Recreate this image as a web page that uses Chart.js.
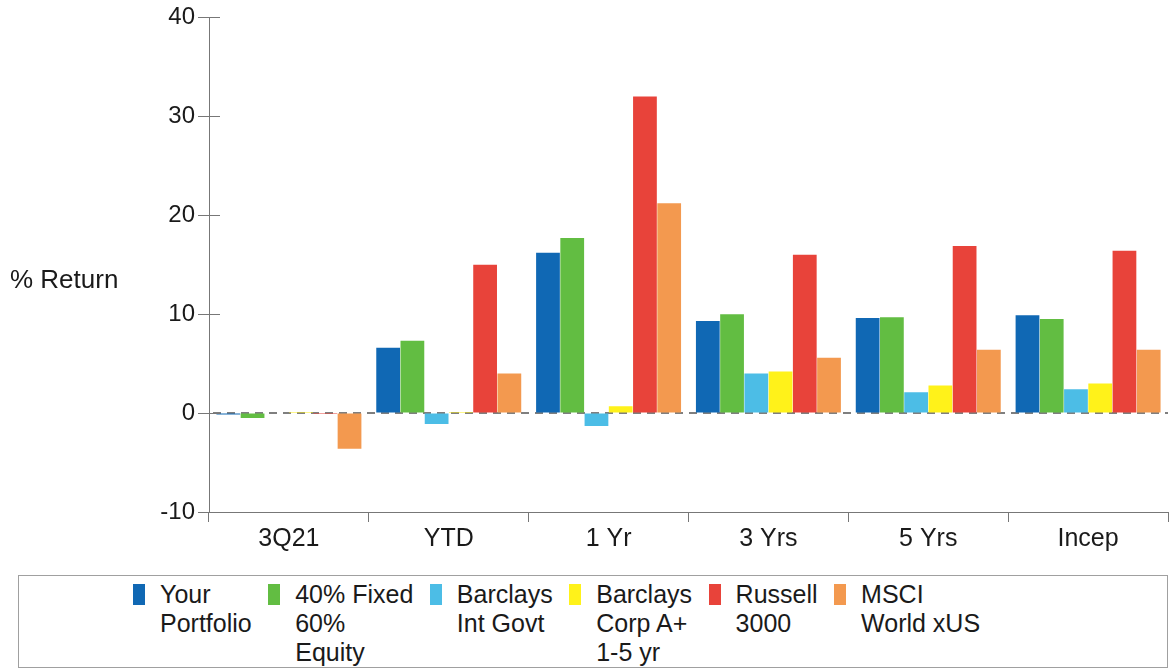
<!DOCTYPE html>
<html lang="en">
<head>
<meta charset="UTF-8">
<title>% Return</title>
<script src="https://cdn.jsdelivr.net/npm/chart.js"></script>
<style>
    html, body {
        margin: 0;
        padding: 0;
        background: #fff;
        font-family: 'Liberation Sans', Arial, sans-serif;
    }
    .wrap {
        position: relative;
        width: 1172px;
        height: 671px;
    }
    .chart-box {
        position: absolute;
        left: 0;
        top: 0;
        width: 1172px;
        height: 560px;
    }
    #legend {
        position: absolute;
        left: 18px;
        top: 575px;
        width: 1150px;
        height: 93px;
        border: 1px solid #a0a0a0;
        box-sizing: border-box;
        display: flex;
        padding-left: 114px;
        padding-top: 4px;
        gap: 16.5px;
    }
    .item {
        display: flex;
        align-items: flex-start;
    }
    .swatch {
        width: 12px;
        height: 21px;
        margin-top: 4px;
        margin-right: 15px;
    }
    .item span {
        font-size: 25px;
        line-height: 29px;
        color: #1a1a1a;
    }
</style>
</head>
<body>
<div class="wrap">
    <div class="chart-box"><canvas id="chart"></canvas></div>
    <div id="legend"></div>
</div>
<script>
    // periods along the x axis
    const periods = ['3Q21', 'YTD', '1 Yr', '3 Yrs', '5 Yrs', 'Incep'];

    // series names (one line per entry)
    const seriesNames = [
        ['Your', 'Portfolio'],
        ['40% Fixed', '60%', 'Equity'],
        ['Barclays', 'Int Govt'],
        ['Barclays', 'Corp A+', '1-5 yr'],
        ['Russell', '3000'],
        ['MSCI', 'World xUS']
    ];
    const seriesColors = ['#1068b4', '#62bd42', '#4cbde6', '#fff21a', '#e8433a', '#f3994f'];

    // % returns
    const yourPortfolio = [-0.15, 6.6, 16.2, 9.3, 9.6, 9.9];
    const fixed40Equity60 = [-0.5, 7.3, 17.7, 10.0, 9.7, 9.5];
    const barclaysIntGovt = [0.05, -1.1, -1.3, 4.0, 2.1, 2.4];
    const barclaysCorp = [0.1, 0.1, 0.7, 4.2, 2.8, 3.0];
    const russell3000 = [-0.1, 15.0, 32.0, 16.0, 16.9, 16.4];
    const msciWorldXUS = [-3.6, 4.0, 21.2, 5.6, 6.4, 6.4];

    const yTicks = [-10, 0, 10, 20, 30, 40];

    const allSeries = [yourPortfolio, fixed40Equity60, barclaysIntGovt, barclaysCorp, russell3000, msciWorldXUS];
    const fontFamily = '"Liberation Sans", Arial, sans-serif';

    const datasets = allSeries.map((vals, i) => ({
        label: seriesNames[i].join(' '),
        data: vals,
        backgroundColor: seriesColors[i],
        borderWidth: 0,
        categoryPercentage: 0.91,
        barPercentage: 0.98
    }));

    // dashed zero line + right half of the y tick marks + horizontal axis title
    const extras = {
        id: 'extras',
        beforeDatasetsDraw(chart) {
            const { ctx, chartArea, scales } = chart;
            const y0 = scales.y.getPixelForValue(0);
            ctx.save();
            ctx.strokeStyle = '#555';
            ctx.lineWidth = 1.5;
            ctx.setLineDash([8, 6]);
            ctx.beginPath();
            ctx.moveTo(chartArea.left + 4, y0);
            ctx.lineTo(chartArea.right, y0);
            ctx.stroke();
            ctx.restore();
        },
        afterDraw(chart) {
            const { ctx, chartArea, scales } = chart;
            ctx.save();
            ctx.strokeStyle = '#777';
            ctx.lineWidth = 1;
            yTicks.forEach(v => {
                const y = Math.round(scales.y.getPixelForValue(v)) + 0.5;
                ctx.beginPath();
                ctx.moveTo(chartArea.left, y);
                ctx.lineTo(chartArea.left + 11, y);
                ctx.stroke();
            });
            ctx.fillStyle = '#1a1a1a';
            ctx.font = '26px ' + fontFamily;
            ctx.textBaseline = 'alphabetic';
            ctx.textAlign = 'left';
            ctx.fillText('% Return', 10, 288);
            ctx.restore();
        }
    };

    new Chart(document.getElementById('chart'), {
        type: 'bar',
        data: { labels: periods, datasets: datasets },
        options: {
            responsive: true,
            maintainAspectRatio: false,
            animation: false,
            layout: { padding: { top: 17, right: 4, left: 0, bottom: 0 } },
            plugins: {
                legend: { display: false },
                tooltip: { enabled: false }
            },
            scales: {
                x: {
                    grid: {
                        offset: true,
                        drawOnChartArea: false,
                        tickLength: 10,
                        color: '#777'
                    },
                    border: { display: true, color: '#777', width: 1 },
                    ticks: {
                        color: '#1a1a1a',
                        padding: 2,
                        font: { size: 25, family: fontFamily }
                    },
                    afterFit(scale) { scale.height = 48; }
                },
                y: {
                    min: -10,
                    max: 40,
                    afterBuildTicks(scale) { scale.ticks = yTicks.map(v => ({ value: v })); },
                    grid: {
                        drawOnChartArea: false,
                        tickLength: 11,
                        color: '#777'
                    },
                    border: { display: true, color: '#777', width: 1 },
                    ticks: {
                        color: '#1a1a1a',
                        padding: 3,
                        font: { size: 24, family: fontFamily }
                    },
                    afterFit(scale) { scale.width = 209; }
                }
            }
        },
        plugins: [extras]
    });

    // legend built from the same arrays
    const legend = document.getElementById('legend');
    seriesNames.forEach((lines, i) => {
        const item = document.createElement('div');
        item.className = 'item';
        const sw = document.createElement('div');
        sw.className = 'swatch';
        sw.style.background = seriesColors[i];
        const txt = document.createElement('span');
        txt.innerHTML = lines.join('<br>');
        item.appendChild(sw);
        item.appendChild(txt);
        legend.appendChild(item);
    });
</script>
</body>
</html>
